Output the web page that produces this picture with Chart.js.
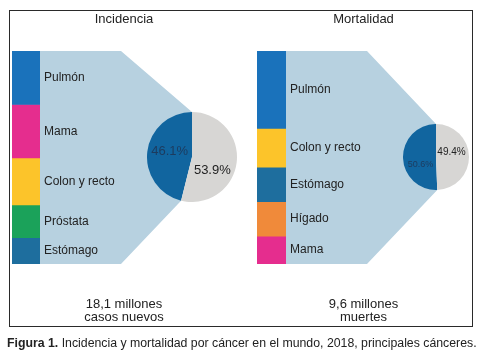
<!DOCTYPE html>
<html>
<head>
<meta charset="utf-8">
<script src="https://cdn.jsdelivr.net/npm/chart.js@4.4.0/dist/chart.umd.min.js"></script>
<style>
  body { margin: 0; background: #fff; }
  #wrap { position: relative; width: 482px; height: 358px; font-family: "Liberation Sans", Arial, sans-serif; }
  canvas { position: absolute; }
  #frame { position: absolute; left: 9px; top: 10px; width: 462px; height: 315px; border: 1px solid #2a2a2a; }
  #caption { position: absolute; left: 7px; top: 336px; font-size: 12.3px; color: #222; white-space: nowrap; }
</style>
</head>
<body>
<div id="wrap">
  <div id="frame"></div>
  <canvas id="barInc" width="241" height="358" style="left:0;top:0"></canvas>
  <canvas id="barMor" width="241" height="358" style="left:241px;top:0"></canvas>
  <canvas id="pieInc" width="90" height="90" style="left:147px;top:112px"></canvas>
  <canvas id="pieMor" width="66" height="66" style="left:403px;top:124px"></canvas>
  <div id="caption"><b>Figura 1.</b> Incidencia y mortalidad por cáncer en el mundo, 2018, principales cánceres.</div>
</div>
<script>
// data (percent of all cancers, 2018)
const incCancers = ["Pulmón", "Mama", "Colon y recto", "Próstata", "Estómago"];
const incValues = [11.6, 11.6, 10.2, 7.1, 5.7];
const incColors = ["#1a72bb", "#e52d8e", "#fcc42a", "#1ba25a", "#1e6e9e"];
const incShare = [46.1, 53.9];

const morCancers = ["Pulmón", "Colon y recto", "Estómago", "Hígado", "Mama"];
const morValues = [18.4, 9.2, 8.2, 8.2, 6.6];
const morColors = ["#1a72bb", "#fcc42a", "#1e6e9e", "#f08a3a", "#e52d8e"];
const morShare = [50.6, 49.4];

const shareLabels = ["Principales", "Otros"];
const pieColors = ["#11659f", "#d7d6d4"];
const FONT = '"Liberation Sans", Arial, sans-serif';

// pie labels: offsets from the arc centroid, font size
const pieLabelStyle = {
  pieInc: { size: 13, dy: [-3, 11], dx: [0, -2] },
  pieMor: { size: [9, 10], dy: [7, -4], dx: [1, -1] },
};

const pieLabels = {
  id: "pieLabels",
  afterDatasetsDraw(chart) {
    const ctx = chart.ctx;
    const st = pieLabelStyle[chart.canvas.id];
    const meta = chart.getDatasetMeta(0);
    ctx.save();
    ctx.textAlign = "center";
    ctx.textBaseline = "middle";
    meta.data.forEach((arc, i) => {
      const p = arc.tooltipPosition();
      const size = Array.isArray(st.size) ? st.size[i] : st.size;
      ctx.font = size + "px " + FONT;
      ctx.fillStyle = i === 0 ? "#1d3b5e" : "#222";
      const v = chart.data.datasets[0].data[i];
      ctx.fillText(v.toFixed(1) + "%", p.x + st.dx[i], p.y + st.dy[i]);
    });
    ctx.restore();
  },
};

function makePie(id, share) {
  return new Chart(document.getElementById(id), {
    type: "pie",
    data: {
      labels: shareLabels,
      datasets: [{ data: share, backgroundColor: pieColors, borderWidth: 0 }],
    },
    options: {
      responsive: false,
      animation: false,
      rotation: -share[0] * 3.6,
      plugins: { legend: { display: false }, tooltip: { enabled: false } },
    },
    plugins: [pieLabels],
  });
}

const pieInc = makePie("pieInc", incShare);
const pieMor = makePie("pieMor", morShare);

function makePanel(id, title, cancers, values, colors, pie, bottomText, barLeft, barWidth) {
  const canvas = document.getElementById(id);
  const total = values.reduce((a, b) => a + b, 0);
  const panelPlugin = {
    id: "panel",
    beforeDatasetsDraw(chart) {
      const ctx = chart.ctx;
      const a = chart.chartArea;
      // dark slice end points, moved into this canvas
      const arc = pie.getDatasetMeta(0).data[0];
      const ox = pie.canvas.offsetLeft - canvas.offsetLeft;
      const oy = pie.canvas.offsetTop - canvas.offsetTop;
      const cx = arc.x + ox, cy = arc.y + oy, r = arc.outerRadius;
      const topPt = [cx + r * Math.cos(arc.endAngle), cy + r * Math.sin(arc.endAngle)];
      const botPt = [cx + r * Math.cos(arc.startAngle), cy + r * Math.sin(arc.startAngle)];
      ctx.save();
      ctx.fillStyle = "#b7d1e0";
      ctx.beginPath();
      ctx.moveTo(a.left, a.top);
      ctx.lineTo(a.right + 81, a.top);
      ctx.lineTo(topPt[0], topPt[1]);
      ctx.lineTo(cx - r, cy);
      ctx.lineTo(botPt[0], botPt[1]);
      ctx.lineTo(a.right + 81, a.bottom);
      ctx.lineTo(a.left, a.bottom);
      ctx.closePath();
      ctx.fill();
      ctx.restore();
    },
    afterDatasetsDraw(chart) {
      const ctx = chart.ctx;
      ctx.save();
      ctx.fillStyle = "#222";
      ctx.textBaseline = "middle";
      ctx.font = "12px " + FONT;
      ctx.textAlign = "left";
      chart.data.datasets.forEach((ds, i) => {
        const el = chart.getDatasetMeta(i).data[0];
        ctx.fillText(ds.label, el.x + el.width / 2 + 4, (el.y + el.base) / 2);
      });
      ctx.textAlign = "center";
      ctx.font = "13px " + FONT;
      const mid = barLeft < 14 ? 124 : 122.5;
      ctx.fillText(title, mid, 19);
      ctx.fillText(bottomText[0], mid, 304);
      ctx.fillText(bottomText[1], mid, 317);
      ctx.restore();
    },
  };
  return new Chart(canvas, {
    type: "bar",
    data: {
      labels: [title],
      datasets: cancers.map((name, i) => ({
        label: name,
        data: [values[i]],
        backgroundColor: colors[i],
        borderWidth: 0,
        barPercentage: 1,
        categoryPercentage: 1,
        stack: "s",
      })),
    },
    options: {
      responsive: false,
      animation: false,
      layout: {
        padding: { left: barLeft, right: canvas.width - barLeft - barWidth, top: 51, bottom: 94 },
      },
      scales: {
        x: { display: false, stacked: true },
        y: { display: false, stacked: true, reverse: true, min: 0, max: total },
      },
      plugins: { legend: { display: false }, tooltip: { enabled: false } },
    },
    plugins: [panelPlugin],
  });
}

makePanel("barInc", "Incidencia", incCancers, incValues, incColors, pieInc,
  ["18,1 millones", "casos nuevos"], 12, 28);
makePanel("barMor", "Mortalidad", morCancers, morValues, morColors, pieMor,
  ["9,6 millones", "muertes"], 16, 29);
</script>
</body>
</html>
